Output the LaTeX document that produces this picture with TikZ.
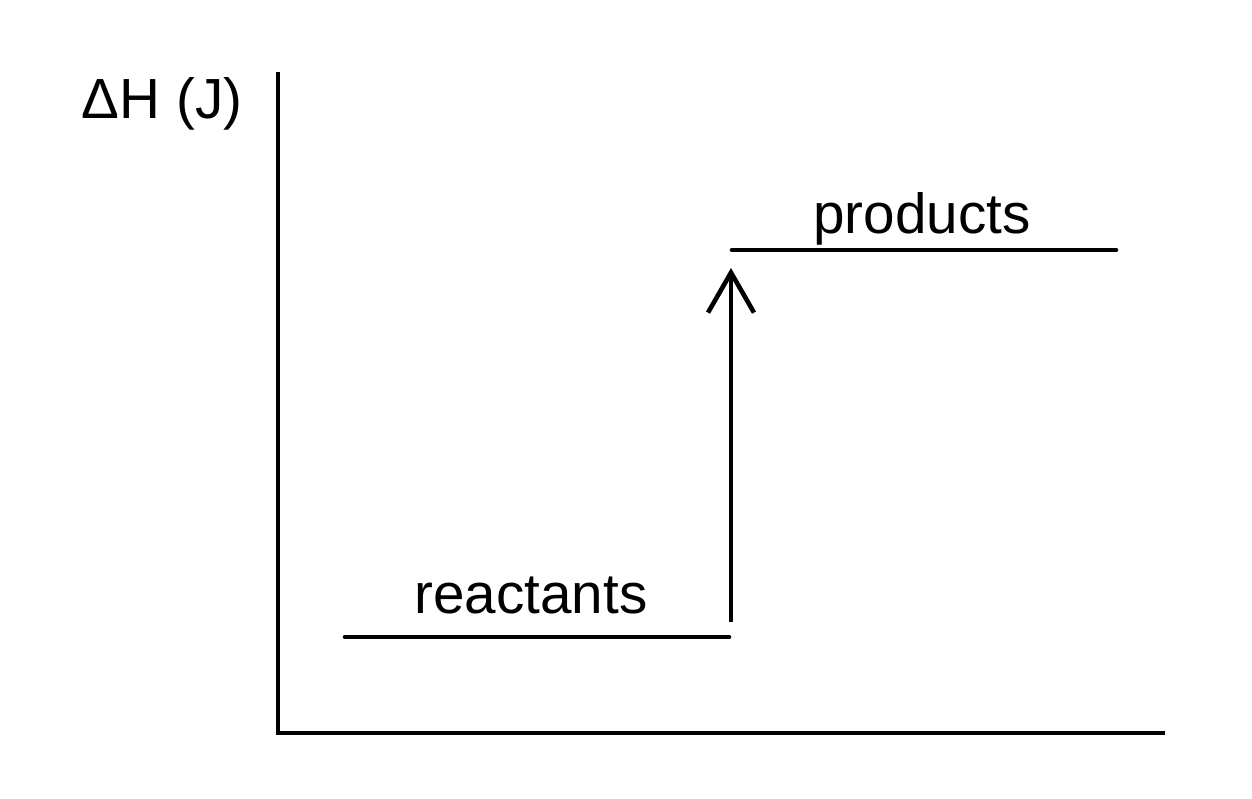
\documentclass[tikz,border=0pt]{standalone}
\usepackage{fontspec}
\setmainfont{Liberation Sans}
\usepackage{tikz}
\usetikzlibrary{arrows.meta,positioning}
\tikzstyle{level} = [line width=2.3pt, line cap=round]
\tikzstyle{axis} = [line width=2.4pt]
\tikzstyle{arrow} = [line width=2.3pt,-{Straight Barb[length=20pt,width=23pt,line width=2.3pt]}]
\tikzstyle{lbl} = [anchor=base, inner sep=0pt, font=\fontsize{28.3}{33}\selectfont]
\begin{document}
\begin{tikzpicture}[x=0.5pt, y=-0.5pt]
\useasboundingbox (0,0) rectangle (1252,798);

% axes
\coordinate (top) at (278,72);
\coordinate (orig) at (278,733);
\coordinate (right) at (1165,733);
\draw[axis] (top) -- (orig) -- (right);
\node[lbl] (dh) at (162,118) {ΔH (J)};

% energy levels
\coordinate (r1) at (345,637);
\coordinate (r2) at (729,637);
\coordinate (p1) at (732,250);
\coordinate (p2) at (1116,250);
\draw[level] (r1) -- (r2);
\draw[level] (p1) -- (p2);
\node[lbl] (react) at (531,613) {reactants};
\node[lbl] (prod) at (922,233) {products};

% enthalpy change
\coordinate (up1) at (731,622);
\coordinate (up2) at (731,268);
\draw[arrow] (up1) -- (up2);
\end{tikzpicture}
\end{document}
